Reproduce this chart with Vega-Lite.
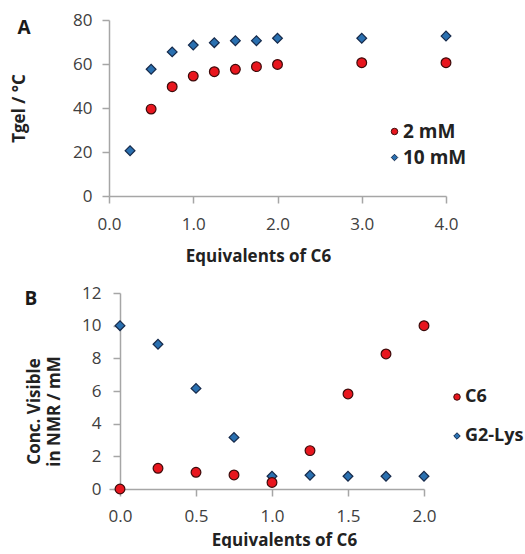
{
  "$schema": "https://vega.github.io/schema/vega-lite/v6.json",
  "padding": {"left": 10, "top": 11, "right": 0, "bottom": 0},
  "background": "white",
  "config": {
    "view": {"stroke": null},
    "font": "Open Sans",
    "axis": {
      "grid": false, "labelFlush": false,
      "domainColor": "#a6a6a6", "domainWidth": 1.5,
      "tickColor": "#a6a6a6", "tickWidth": 1.5, "tickSize": 7,
      "labelFont": "Open Sans", "labelFontSize": 17, "labelColor": "#404040",
      "titleFont": "Open Sans", "titleFontSize": 17, "titleFontWeight": "bold", "titleColor": "#222222"
    },
    "legend": {
      "labelFont": "Open Sans", "labelFontSize": 19, "labelFontWeight": "bold", "labelColor": "#222222",
      "padding": 0, "labelOffset": -1, "symbolSize": 42, "symbolStrokeWidth": 1, "title": null
    },
    "title": {"font": "Open Sans", "fontSize": 19, "fontWeight": "bold", "color": "#1a1a1a", "anchor": "start", "frame": "bounds"}
  },
  "resolve": {"scale": {"fill": "independent", "stroke": "independent", "shape": "independent"}},
  "concat": [
    {
      "title": {"text": "A", "dx": 7, "dy": 31},
      "width": 337, "height": 176,
      "data": {"values": [
        {"eq": 0.25, "t": 20.6, "s": "10 mM"},
        {"eq": 0.5, "t": 57.6, "s": "10 mM"},
        {"eq": 0.75, "t": 65.5, "s": "10 mM"},
        {"eq": 1.0, "t": 68.6, "s": "10 mM"},
        {"eq": 1.25, "t": 69.7, "s": "10 mM"},
        {"eq": 1.5, "t": 70.6, "s": "10 mM"},
        {"eq": 1.75, "t": 70.6, "s": "10 mM"},
        {"eq": 2.0, "t": 71.7, "s": "10 mM"},
        {"eq": 3.0, "t": 71.7, "s": "10 mM"},
        {"eq": 4.0, "t": 72.7, "s": "10 mM"},
        {"eq": 0.5, "t": 39.5, "s": "2 mM"},
        {"eq": 0.75, "t": 49.7, "s": "2 mM"},
        {"eq": 1.0, "t": 54.5, "s": "2 mM"},
        {"eq": 1.25, "t": 56.5, "s": "2 mM"},
        {"eq": 1.5, "t": 57.6, "s": "2 mM"},
        {"eq": 1.75, "t": 58.8, "s": "2 mM"},
        {"eq": 2.0, "t": 59.8, "s": "2 mM"},
        {"eq": 3.0, "t": 60.6, "s": "2 mM"},
        {"eq": 4.0, "t": 60.6, "s": "2 mM"}
      ]},
      "mark": {"type": "point", "filled": true, "opacity": 1, "strokeWidth": 1.2, "size": 95},
      "encoding": {
        "x": {"field": "eq", "type": "quantitative",
              "scale": {"domain": [0, 4], "nice": false},
              "axis": {"values": [0, 1, 2, 3, 4], "format": ".1f", "title": "Equivalents of C6", "labelPadding": 13, "titlePadding": 16, "titleX": 149}},
        "y": {"field": "t", "type": "quantitative",
              "scale": {"domain": [0, 80], "nice": false},
              "axis": {"values": [0, 20, 40, 60, 80], "title": "Tgel / °C", "labelPadding": 10, "titlePadding": 44}},
        "fill": {"field": "s", "type": "nominal",
                 "scale": {"domain": ["2 mM", "10 mM"], "range": ["#e8161e", "#2a70b0"]},
                 "legend": {"orient": "none", "legendX": 276, "legendY": 102, "rowPadding": 6}},
        "stroke": {"field": "s", "type": "nominal",
                   "scale": {"domain": ["2 mM", "10 mM"], "range": ["#3d0a0a", "#15294a"]},
                   "legend": {"orient": "none", "legendX": 276, "legendY": 102, "rowPadding": 6}},
        "shape": {"field": "s", "type": "nominal",
                  "scale": {"domain": ["2 mM", "10 mM"], "range": ["circle", "diamond"]},
                  "legend": {"orient": "none", "legendX": 276, "legendY": 102, "rowPadding": 6}}
      }
    },
    {
      "title": {"text": "B", "dx": -1, "dy": 29},
      "width": 315, "height": 196,
      "data": {"values": [
        {"eq": 0.0, "c": 10.0, "s": "G2-Lys"},
        {"eq": 0.25, "c": 8.86, "s": "G2-Lys"},
        {"eq": 0.5, "c": 6.16, "s": "G2-Lys"},
        {"eq": 0.75, "c": 3.16, "s": "G2-Lys"},
        {"eq": 1.0, "c": 0.78, "s": "G2-Lys"},
        {"eq": 1.25, "c": 0.84, "s": "G2-Lys"},
        {"eq": 1.5, "c": 0.78, "s": "G2-Lys"},
        {"eq": 1.75, "c": 0.78, "s": "G2-Lys"},
        {"eq": 2.0, "c": 0.78, "s": "G2-Lys"},
        {"eq": 0.0, "c": 0.0, "s": "C6"},
        {"eq": 0.25, "c": 1.27, "s": "C6"},
        {"eq": 0.5, "c": 1.02, "s": "C6"},
        {"eq": 0.75, "c": 0.86, "s": "C6"},
        {"eq": 1.0, "c": 0.4, "s": "C6"},
        {"eq": 1.25, "c": 2.35, "s": "C6"},
        {"eq": 1.5, "c": 5.82, "s": "C6"},
        {"eq": 1.75, "c": 8.27, "s": "C6"},
        {"eq": 2.0, "c": 10.0, "s": "C6"}
      ]},
      "mark": {"type": "point", "filled": true, "opacity": 1, "strokeWidth": 1.2, "size": 95},
      "encoding": {
        "x": {"field": "eq", "type": "quantitative",
              "scale": {"domain": [-0.0724, 2], "nice": false, "zero": false},
              "axis": {"values": [0, 0.5, 1, 1.5, 2], "format": ".1f", "title": "Equivalents of C6", "labelPadding": 12, "titlePadding": 8, "titleX": 175}},
        "y": {"field": "c", "type": "quantitative",
              "scale": {"domain": [0, 12], "nice": false},
              "axis": {"values": [0, 2, 4, 6, 8, 10, 12], "offset": -11, "title": ["Conc. Visible", "in NMR / mM"], "titleLineHeight": 20, "labelPadding": 12, "titlePadding": 18, "titleY": 118}},
        "fill": {"field": "s", "type": "nominal",
                 "scale": {"domain": ["C6", "G2-Lys"], "range": ["#e8161e", "#2a70b0"]},
                 "legend": {"orient": "none", "legendX": 339, "legendY": 95, "rowPadding": 21, "labelFontSize": 18}},
        "stroke": {"field": "s", "type": "nominal",
                   "scale": {"domain": ["C6", "G2-Lys"], "range": ["#3d0a0a", "#15294a"]},
                   "legend": {"orient": "none", "legendX": 339, "legendY": 95, "rowPadding": 21, "labelFontSize": 18}},
        "shape": {"field": "s", "type": "nominal",
                  "scale": {"domain": ["C6", "G2-Lys"], "range": ["circle", "diamond"]},
                  "legend": {"orient": "none", "legendX": 339, "legendY": 95, "rowPadding": 21, "labelFontSize": 18}}
      }
    }
  ],
  "columns": 1,
  "spacing": 20
}
